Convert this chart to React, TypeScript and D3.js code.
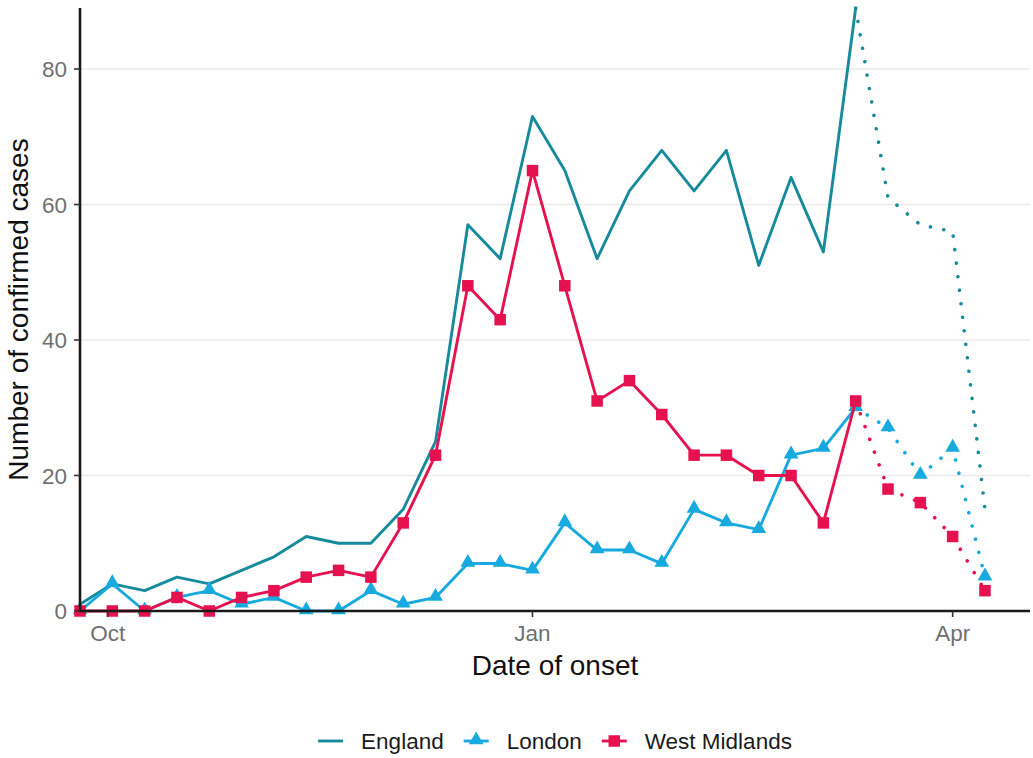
import React, { useEffect, useRef } from "react";
import * as d3 from "d3";

const weekStarts = [
  "2023-09-25", "2023-10-02", "2023-10-09", "2023-10-16", "2023-10-23",
  "2023-10-30", "2023-11-06", "2023-11-13", "2023-11-20", "2023-11-27",
  "2023-12-04", "2023-12-11", "2023-12-18", "2023-12-25", "2024-01-01",
  "2024-01-08", "2024-01-15", "2024-01-22", "2024-01-29", "2024-02-05",
  "2024-02-12", "2024-02-19", "2024-02-26", "2024-03-04", "2024-03-11",
  "2024-03-18", "2024-03-25", "2024-04-01", "2024-04-08",
];

const england = [1, 4, 3, 5, 4, 6, 8, 11, 10, 10, 15, 25, 57, 52, 73, 65, 52, 62, 68, 62, 68, 51, 64, 53, 89, 61, 57, 56, 15];
const london = [0, 4, 0, 2, 3, 1, 2, 0, 0, 3, 1, 2, 7, 7, 6, 13, 9, 9, 7, 15, 13, 12, 23, 24, 30, 27, 20, 24, 5];
const westMidlands = [0, 0, 0, 2, 0, 2, 3, 5, 6, 5, 13, 23, 48, 43, 65, 48, 31, 34, 29, 23, 23, 20, 20, 13, 31, 18, 16, 11, 3];

// index of the last week drawn solid; later weeks are provisional (dotted)
const lastConfirmedIndex = 24;

const seriesNames = ["England", "London", "West Midlands"];
const seriesColors = ["#178a9b", "#18aade", "#e5124f"];
const seriesShapes = ["none", "triangle", "square"];

const xTickDates = ["2023-10-01", "2024-01-01", "2024-04-01"];
const xTickLabels = ["Oct", "Jan", "Apr"];
const yTicks = [0, 20, 40, 60, 80];
const yMax = 89;
const xDomain = ["2023-09-25", "2024-04-17T18:00"];

const W = 1033;
const H = 758;
const FONT = "'Liberation Sans', Arial, sans-serif";

export default function App() {
  const ref = useRef<SVGSVGElement | null>(null);

  useEffect(() => {
    const svg = d3.select(ref.current);
    svg.selectAll("*").remove();

    const left = 80, right = 1030, top = 8, bottom = 611;
    const parse = (s: string) => new Date(s);
    const x = d3.scaleTime().domain(xDomain.map(parse)).range([left, right]);
    const y = d3.scaleLinear().domain([0, yMax]).range([bottom, top]);

    const dates = weekStarts.map(parse);
    const allSeries = [england, london, westMidlands];

    // grid
    svg.append("g")
      .selectAll("line")
      .data(yTicks.filter((t) => t > 0))
      .join("line")
      .attr("x1", left).attr("x2", right)
      .attr("y1", (d) => y(d)).attr("y2", (d) => y(d))
      .attr("stroke", "#ebebeb").attr("stroke-width", 1.6);

    const line = d3.line<[Date, number]>().x((d) => x(d[0])).y((d) => y(d[1]));

    const triPath = d3.symbol().type(d3.symbolTriangle).size(95)();
    const sqSize = 11.5;

    const drawMarkers = (g: any, pts: [Date, number][], shape: string, color: string) => {
      if (shape === "triangle") {
        g.selectAll("path.m").data(pts).join("path")
          .attr("class", "m")
          .attr("d", triPath)
          .attr("transform", (d: [Date, number]) => `translate(${x(d[0])},${y(d[1]) - 1})`)
          .attr("fill", color);
      } else if (shape === "square") {
        g.selectAll("rect.m").data(pts).join("rect")
          .attr("class", "m")
          .attr("x", (d: [Date, number]) => x(d[0]) - sqSize / 2)
          .attr("y", (d: [Date, number]) => y(d[1]) - sqSize / 2)
          .attr("width", sqSize).attr("height", sqSize)
          .attr("fill", color);
      }
    };

    const plot = svg.append("g");
    allSeries.forEach((vals, i) => {
      const pts: [Date, number][] = vals.map((v, j) => [dates[j], v]);
      const solid = pts.slice(0, lastConfirmedIndex + 1);
      const dotted = pts.slice(lastConfirmedIndex);
      const g = plot.append("g");
      g.append("path").datum(solid).attr("d", line)
        .attr("fill", "none").attr("stroke", seriesColors[i])
        .attr("stroke-width", 2.9).attr("stroke-linejoin", "round");
      g.append("path").datum(dotted).attr("d", line)
        .attr("fill", "none").attr("stroke", seriesColors[i])
        .attr("stroke-width", 3.6).attr("stroke-linecap", "round")
        .attr("stroke-dasharray", "0.01 13.6");
      drawMarkers(g, pts, seriesShapes[i], seriesColors[i]);
    });

    // axes
    const axes = svg.append("g").attr("font-family", FONT);
    axes.append("line").attr("x1", left).attr("x2", left).attr("y1", top).attr("y2", bottom + 1)
      .attr("stroke", "#1a1a1a").attr("stroke-width", 2.6);
    axes.append("line").attr("x1", left - 1).attr("x2", right).attr("y1", bottom).attr("y2", bottom)
      .attr("stroke", "#1a1a1a").attr("stroke-width", 2.6);

    yTicks.forEach((t) => {
      axes.append("line").attr("x1", left - 6).attr("x2", left).attr("y1", y(t)).attr("y2", y(t))
        .attr("stroke", "#333").attr("stroke-width", 1.6);
      axes.append("text").attr("x", left - 13).attr("y", y(t)).attr("dy", "0.36em")
        .attr("text-anchor", "end").attr("font-size", 22.5).attr("fill", "#707070").text(String(t));
    });
    xTickDates.forEach((d, i) => {
      const px = x(parse(d));
      axes.append("line").attr("x1", px).attr("x2", px).attr("y1", bottom).attr("y2", bottom + 6)
        .attr("stroke", "#333").attr("stroke-width", 1.6);
      axes.append("text").attr("x", px).attr("y", 641)
        .attr("text-anchor", "middle").attr("font-size", 22.5).attr("fill", "#707070").text(xTickLabels[i]);
    });

    axes.append("text").attr("x", (left + right) / 2).attr("y", 675)
      .attr("text-anchor", "middle").attr("font-size", 28).attr("fill", "#111").text("Date of onset");
    axes.append("text").attr("transform", `translate(28,${(top + bottom) / 2}) rotate(-90)`)
      .attr("text-anchor", "middle").attr("font-size", 28).attr("fill", "#111").text("Number of confirmed cases");

    // legend
    const leg = svg.append("g").attr("font-family", FONT);
    const keyW = 25, keyGap = 18, itemGap = 20, legY = 741;
    const items = seriesNames.map((name, i) => {
      const g = leg.append("g");
      g.append("line").attr("x1", 0).attr("x2", keyW).attr("y1", 0).attr("y2", 0)
        .attr("stroke", seriesColors[i]).attr("stroke-width", 2.9);
      if (seriesShapes[i] === "triangle") {
        g.append("path").attr("d", triPath).attr("transform", `translate(${keyW / 2},-1)`).attr("fill", seriesColors[i]);
      } else if (seriesShapes[i] === "square") {
        g.append("rect").attr("x", keyW / 2 - sqSize / 2).attr("y", -sqSize / 2)
          .attr("width", sqSize).attr("height", sqSize).attr("fill", seriesColors[i]);
      }
      const t = g.append("text").attr("x", keyW + keyGap).attr("y", 0).attr("dy", "0.36em")
        .attr("font-size", 22.5).attr("fill", "#1a1a1a").text(name);
      const tw = (t.node() as SVGTextElement).getComputedTextLength();
      return { g, width: keyW + keyGap + tw };
    });
    const total = items.reduce((s, it) => s + it.width, 0) + itemGap * (items.length - 1);
    let cx = (left + right) / 2 - total / 2;
    items.forEach((it) => {
      it.g.attr("transform", `translate(${cx},${legY})`);
      cx += it.width + itemGap;
    });
  }, []);

  return (
    <svg
      ref={ref}
      width={W}
      height={H}
      style={{ position: "absolute", left: 0, top: 0, background: "#fff" }}
    />
  );
}
